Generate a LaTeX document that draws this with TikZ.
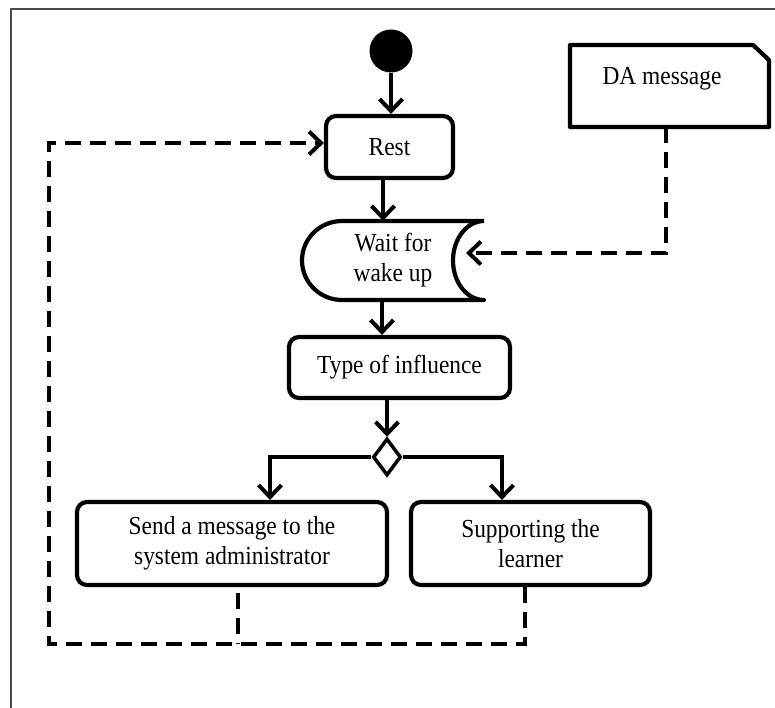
\documentclass[tikz,border=0pt]{standalone}
\usepackage{fontspec}
\setmainfont{Liberation Serif}[FakeStretch=0.9]
\usetikzlibrary{arrows.meta,shapes.geometric}
\newcommand\dgfont{\fontsize{26}{30}\selectfont}
\begin{document}
\begin{tikzpicture}[x=1pt,y=-1pt,
  box/.style={draw, line width=4.2pt, rounded corners=10pt, inner sep=0pt, align=center, font=\dgfont},
  txt/.style={inner sep=0pt, align=center, font=\dgfont},
  flow/.style={line width=4pt, -{Straight Barb[length=12pt,width=23pt]}},
  dflow/.style={flow, dash pattern=on 16pt off 9pt},
  dline/.style={line width=4pt, dash pattern=on 16pt off 9pt},
  shapeline/.style={line width=4.2pt, line join=round}]
\useasboundingbox (0,0) rectangle (775,708);
\draw[black!70, line width=1.5pt] (11,708) -- (11,9) -- (775,9);

% nodes
\node[circle, fill, minimum size=43pt, inner sep=0pt] (start) at (391,51) {};
\node[box, minimum width=127pt, minimum height=62pt] (rest) at (389.5,147) {Rest};
\node[txt, minimum width=182pt, minimum height=79pt] (wait) at (393,260.5) {Wait for\\wake up};
\draw[shapeline] (484,221) -- (342,221)
  arc[start angle=90, end angle=270, x radius=40pt, y radius=39.5pt]
  -- (484,300)
  arc[start angle=270, end angle=90, x radius=31pt, y radius=39.5pt];
\node[box, minimum width=221pt, minimum height=61pt] (type) at (399.5,367.5) {Type of influence};
\node[diamond, draw, line width=3.5pt, minimum width=28pt, minimum height=37pt, inner sep=0pt] (dec) at (387,457) {};
\node[box, minimum width=310pt, minimum height=83pt] (send) at (232,543.5) {Send a message to the\\system administrator};
\node[box, minimum width=239pt, minimum height=83pt] (supp) at (530.5,543.5) {Supporting the\\learner};
\node[inner sep=0pt, minimum width=199pt, minimum height=82pt] (da) at (669.5,86) {};
\draw[shapeline] (570,45) -- (753,45) -- (769,60) -- (769,127) -- (570,127) -- cycle;
\node[txt] (datext) at (662,79) {DA message};
\coordinate (wakein) at (466,253);
\coordinate (fbL) at (49,644);

% connectors
\draw[flow] (start.south) -- (start.south |- rest.north);
\draw[flow] ([xshift=-6.5pt]rest.south) -- ([xshift=-6.5pt]rest.south |- wait.north);
\draw[flow] ([xshift=-11pt]wait.south) -- ([xshift=-11pt]wait.south |- type.north);
\draw[flow] (type.south -| dec.north) -- (dec.north);
\draw[flow] (dec.west) -| ([xshift=38pt]send.north);
\draw[flow] (dec.east) -| ([xshift=-28.5pt]supp.north);
\draw[dflow] ([xshift=-3.5pt]da.south) |- (wakein);
\draw[dline] ([xshift=6pt,yshift=-6pt]send.south) -- ([xshift=6pt]send.south |- fbL);
\draw[dflow] ([xshift=-5.5pt]supp.south) |- (fbL) |- ([yshift=4pt]rest.west);
\end{tikzpicture}
\end{document}
